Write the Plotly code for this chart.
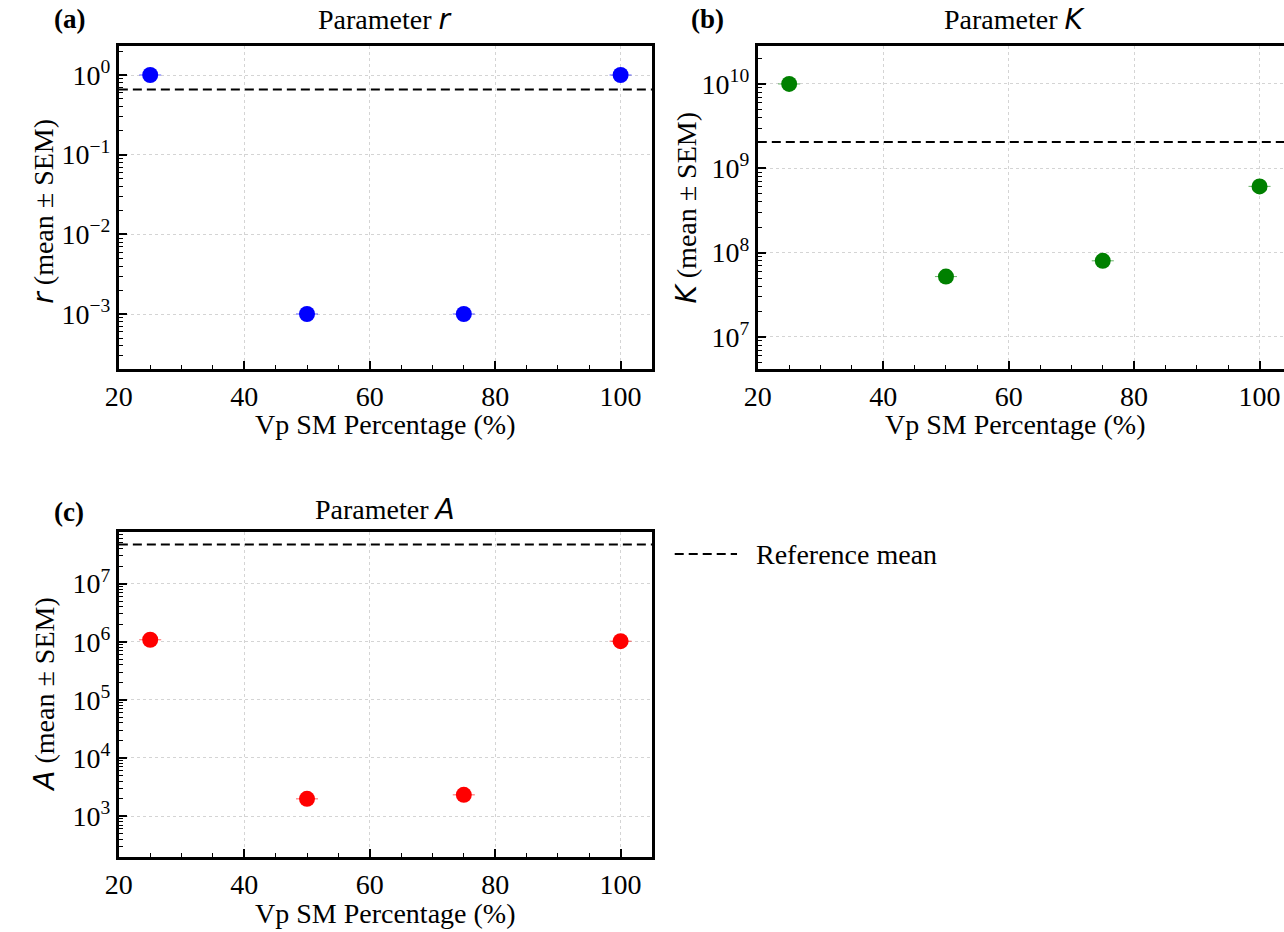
import plotly.graph_objects as go

# ---- data -------------------------------------------------------------
vp_sm_pct = [25, 50, 75, 100]

r_mean = [1.0, 1.0e-3, 1.0e-3, 1.0]
r_sem = [0.0, 0.0, 0.0, 0.0]
r_ref = 0.66

K_mean = [1.0e10, 5.2e7, 8.0e7, 6.1e8]
K_sem = [0.0, 0.0, 0.0, 0.0]
K_ref = 2.05e9

A_mean = [1.08e6, 1.98e3, 2.32e3, 1.02e6]
A_sem = [0.0, 0.0, 0.0, 0.0]
A_ref = 4.7e7

x_ticks = [20, 40, 60, 80, 100]
r_ticks = [1e-3, 1e-2, 1e-1, 1e0]
r_ticktext = ["10<sup>−3</sup>", "10<sup>−2</sup>", "10<sup>−1</sup>", "10<sup>0</sup>"]
K_ticks = [1e7, 1e8, 1e9, 1e10]
K_ticktext = ["10<sup>7</sup>", "10<sup>8</sup>", "10<sup>9</sup>", "10<sup>10</sup>"]
A_ticks = [1e3, 1e4, 1e5, 1e6, 1e7]
A_ticktext = ["10<sup>3</sup>", "10<sup>4</sup>", "10<sup>5</sup>", "10<sup>6</sup>", "10<sup>7</sup>"]

# ---- layout geometry (pixels) ----------------------------------------
W, H = 1284, 932
SERIF = "Liberation Serif"
FS = 27


def px_x(p):
    return p / W


def px_y(p):
    return 1 - p / H


def log_minor(lo_exp, hi_exp):
    return [m * 10.0 ** e for e in range(lo_exp, hi_exp + 1) for m in range(2, 10)]


fig = go.Figure()

panels = [
    dict(ax="", mean=r_mean, sem=r_sem, ref=r_ref, color="#0000ff", cap="rgba(0,0,255,0.35)"),
    dict(ax="2", mean=K_mean, sem=K_sem, ref=K_ref, color="#008000", cap="rgba(0,128,0,0.35)"),
    dict(ax="3", mean=A_mean, sem=A_sem, ref=A_ref, color="#ff0000", cap="rgba(255,0,0,0.35)"),
]

DASH = "9px,5px"

for p in panels:
    fig.add_trace(go.Scatter(
        x=vp_sm_pct, y=p["mean"], mode="markers",
        marker=dict(size=16, color=p["color"], line=dict(width=0)),
        error_y=dict(type="data", array=p["sem"], visible=True,
                     color=p["cap"], thickness=1, width=11),
        xaxis="x" + p["ax"], yaxis="y" + p["ax"], showlegend=False,
    ))
    fig.add_trace(go.Scatter(
        x=[20, 110], y=[p["ref"], p["ref"]], mode="lines",
        line=dict(color="black", width=2, dash=DASH),
        xaxis="x" + p["ax"], yaxis="y" + p["ax"], showlegend=False,
        hoverinfo="skip",
    ))

common_x = dict(
    tickvals=x_ticks, ticks="inside", ticklen=8, tickwidth=1.5, tickcolor="black",
    showline=True, linecolor="black", linewidth=3, mirror=True,
    showgrid=True, gridcolor="#d4d4d4", griddash="dot", gridwidth=1,
    zeroline=False, tickfont=dict(family=SERIF, size=FS + 1, color="black"),
    minor=dict(tickvals=list(range(25, 105, 5)), ticks="inside", ticklen=4,
               tickwidth=1, tickcolor="black", showgrid=False),
)
common_y = dict(
    type="log", ticks="inside", ticklen=8, tickwidth=1.5, tickcolor="black",
    showline=True, linecolor="black", linewidth=3, mirror=True,
    showgrid=True, gridcolor="#d4d4d4", griddash="dot", gridwidth=1,
    zeroline=False, tickfont=dict(family=SERIF, size=FS + 1, color="black"),
)

xa_left, xa_right = 106, 645
xb_left = 752
unit_px = (xa_right - xa_left) / 85.0
xb_hi = 20 + (W - xb_left) / unit_px

top_ab, bot_ab = 46, 369
top_c, bot_c = 532, 857

fig.update_layout(
    width=W, height=H, margin=dict(l=0, r=0, t=0, b=0),
    paper_bgcolor="white", plot_bgcolor="white",
    xaxis=dict(common_x, domain=[px_x(xa_left), px_x(xa_right)], range=[20, 105],
               anchor="y"),
    yaxis=dict(common_y, domain=[px_y(bot_ab), px_y(top_ab)],
               range=[-3.69, 0.364], tickvals=r_ticks, ticktext=r_ticktext,
               minor=dict(tickvals=log_minor(-4, 0), ticks="inside", ticklen=4,
                          tickwidth=1, tickcolor="black", showgrid=False),
               anchor="x"),
    xaxis2=dict(common_x, domain=[px_x(xb_left), 1.0], range=[20, xb_hi],
                anchor="y2"),
    yaxis2=dict(common_y, domain=[px_y(bot_ab), px_y(top_ab)], mirror=False,
                range=[6.62, 10.45], tickvals=K_ticks, ticktext=K_ticktext,
                minor=dict(tickvals=log_minor(6, 10), ticks="inside", ticklen=4,
                           tickwidth=1, tickcolor="black", showgrid=False),
                anchor="x2"),
    xaxis3=dict(common_x, domain=[px_x(xa_left), px_x(xa_right)], range=[20, 105],
                anchor="y3"),
    yaxis3=dict(common_y, domain=[px_y(bot_c), px_y(top_c)],
                range=[2.296, 7.887], tickvals=A_ticks, ticktext=A_ticktext,
                minor=dict(tickvals=log_minor(2, 7), ticks="inside", ticklen=4,
                           tickwidth=1, tickcolor="black", showgrid=False),
                anchor="x3"),
)


def text(x, y, s, size=FS, angle=0, anchor="center"):
    fig.add_annotation(x=px_x(x), y=px_y(y), xref="paper", yref="paper",
                       text=s, showarrow=False, textangle=angle,
                       xanchor=anchor, yanchor="middle", borderpad=0,
                       font=dict(family=SERIF, size=size, color="black"))


def sym(c):
    return "<i><span style='font-family:DejaVu Sans'>" + c + "</span></i>"


xa_mid = (xa_left + xa_right) / 2
xb_mid = 1012

# panel letters
text(56, 19, "<b>(a)</b>", size=27)
text(701, 19, "<b>(b)</b>", size=27)
text(56, 512, "<b>(c)</b>", size=27)

# subplot titles
text(xa_mid, 19, "Parameter " + sym("r"), size=28)
text(xb_mid, 19, "Parameter " + sym("K"), size=28)
text(xa_mid, 510, "Parameter " + sym("A"), size=28)

# x-axis titles
xlabel = "Vp SM Percentage (%)"
text(xa_mid, 425, xlabel, size=28)
text(xb_mid, 425, xlabel, size=28)
text(xa_mid, 913, xlabel, size=28)

# y-axis titles
text(30, 211, sym("r") + " (mean ± SEM)", angle=-90, size=28)
text(679, 208, sym("K") + " (mean ± SEM)", angle=-90, size=28)
text(30, 695, sym("A") + " (mean ± SEM)", angle=-90, size=28)

# legend entry for the reference line
fig.add_shape(type="line", xref="paper", yref="paper",
              x0=px_x(668), x1=px_x(731), y0=px_y(554), y1=px_y(554),
              line=dict(color="black", width=2, dash=DASH))
text(749, 554, "Reference mean", anchor="left", size=28)

fig.write_html("out.html")
